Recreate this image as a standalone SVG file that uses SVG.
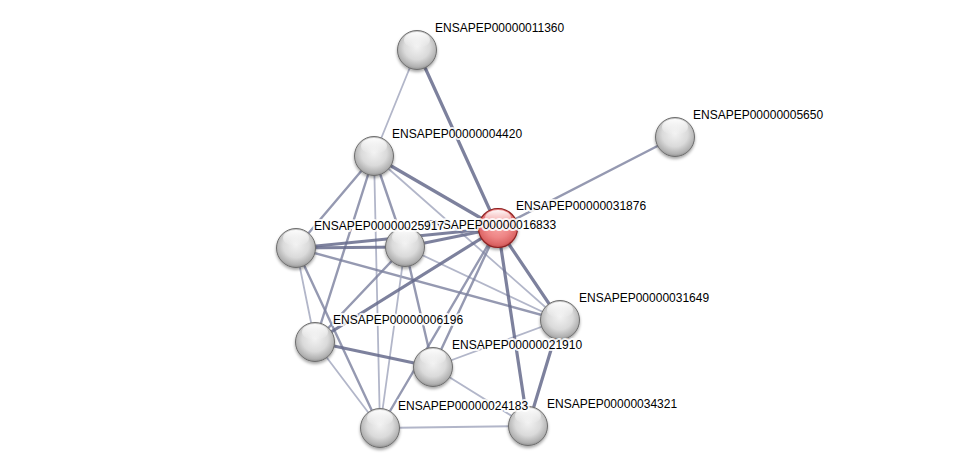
<svg xmlns="http://www.w3.org/2000/svg" xmlns:xlink="http://www.w3.org/1999/xlink" width="975" height="473" viewBox="0 0 975 473">
<style>
.e{fill:none;stroke-linecap:round}
.t{stroke:#666b8c;stroke-width:3.2;stroke-opacity:.85}
.m{stroke:#7a7f9e;stroke-width:2.4;stroke-opacity:.8}
.l{stroke:#a4a9c0;stroke-width:1.8;stroke-opacity:.85}
.ball{fill:url(#gBall);stroke:#6e6e6e;stroke-width:1}
.red{fill:url(#gRed);stroke:#8e2222;stroke-width:1.2}
.hl{fill:url(#gHl)}
text{font-family:"Liberation Sans",Arial,sans-serif;font-size:12px;fill:#000;paint-order:stroke;stroke:#fff;stroke-width:4px;stroke-opacity:.85;stroke-linejoin:round}
</style>
<defs>
<radialGradient id="gBall" cx="50%" cy="42%" r="60%">
<stop offset="0" stop-color="#f2f2f2"/>
<stop offset="0.55" stop-color="#dadada"/>
<stop offset="0.85" stop-color="#b2b2b2"/>
<stop offset="1" stop-color="#8a8a8a"/>
</radialGradient>
<radialGradient id="gRed" cx="50%" cy="42%" r="60%">
<stop offset="0" stop-color="#f9aaaa"/>
<stop offset="0.55" stop-color="#ee8585"/>
<stop offset="0.85" stop-color="#dc6565"/>
<stop offset="1" stop-color="#b94646"/>
</radialGradient>
<linearGradient id="gHl" x1="0" y1="0" x2="0" y2="1">
<stop offset="0" stop-color="#fff" stop-opacity="0.95"/>
<stop offset="1" stop-color="#fff" stop-opacity="0"/>
</linearGradient>
<filter id="sh" x="-30%" y="-30%" width="160%" height="170%">
<feDropShadow dx="0" dy="2" stdDeviation="1.5" flood-color="#000" flood-opacity="0.35"/>
</filter>
</defs>
<rect width="975" height="473" fill="#fff"/>
<g id="edges">
<line class="e l" x1="417" y1="50" x2="374" y2="156"/>
<line class="e t" x1="417" y1="50" x2="498" y2="228"/>
<line class="e m" x1="675" y1="137" x2="498" y2="228"/>
<line class="e t" x1="374" y1="156" x2="498" y2="228"/>
<line class="e l" x1="374" y1="156" x2="560" y2="320"/>
<line class="e m" x1="374" y1="156" x2="296" y2="248"/>
<line class="e m" x1="374" y1="156" x2="315" y2="342"/>
<line class="e l" x1="374" y1="156" x2="380" y2="428"/>
<line class="e m" x1="374" y1="156" x2="405" y2="247"/>
<line class="e t" x1="296" y1="248" x2="405" y2="247"/>
<line class="e t" x1="296" y1="248" x2="498" y2="228"/>
<line class="e t" x1="405" y1="247" x2="498" y2="228"/>
<line class="e l" x1="296" y1="248" x2="315" y2="342"/>
<line class="e m" x1="296" y1="248" x2="380" y2="428"/>
<line class="e m" x1="296" y1="248" x2="560" y2="320"/>
<line class="e m" x1="405" y1="247" x2="315" y2="342"/>
<line class="e l" x1="405" y1="247" x2="380" y2="428"/>
<line class="e m" x1="405" y1="247" x2="433" y2="367"/>
<line class="e l" x1="405" y1="247" x2="560" y2="320"/>
<line class="e t" x1="315" y1="342" x2="498" y2="228"/>
<line class="e t" x1="315" y1="342" x2="433" y2="367"/>
<line class="e l" x1="315" y1="342" x2="380" y2="428"/>
<line class="e m" x1="433" y1="367" x2="498" y2="228"/>
<line class="e m" x1="380" y1="428" x2="498" y2="228"/>
<line class="e l" x1="433" y1="367" x2="560" y2="320"/>
<line class="e l" x1="433" y1="367" x2="528" y2="426"/>
<line class="e t" x1="498" y1="228" x2="560" y2="320"/>
<line class="e t" x1="498" y1="228" x2="528" y2="426"/>
<line class="e t" x1="560" y1="320" x2="528" y2="426"/>
<line class="e l" x1="380" y1="428" x2="528" y2="426"/>
</g>
<g id="n11360" filter="url(#sh)"><circle class="ball" cx="417" cy="50" r="19.5"/><ellipse class="hl" cx="417" cy="40" rx="13" ry="8"/></g>
<g id="n5650" filter="url(#sh)"><circle class="ball" cx="675" cy="137" r="19.5"/><ellipse class="hl" cx="675" cy="127" rx="13" ry="8"/></g>
<g id="n4420" filter="url(#sh)"><circle class="ball" cx="374" cy="156" r="19.5"/><ellipse class="hl" cx="374" cy="146" rx="13" ry="8"/></g>
<g id="n31876" filter="url(#sh)"><circle class="red" cx="498" cy="228" r="19.5"/><ellipse class="hl" cx="498" cy="218" rx="13" ry="8"/></g>
<g id="n25917" filter="url(#sh)"><circle class="ball" cx="296" cy="248" r="19.5"/><ellipse class="hl" cx="296" cy="238" rx="13" ry="8"/></g>
<g id="n16833" filter="url(#sh)"><circle class="ball" cx="405" cy="247" r="19.5"/><ellipse class="hl" cx="405" cy="237" rx="13" ry="8"/></g>
<g id="n6196" filter="url(#sh)"><circle class="ball" cx="315" cy="342" r="19.5"/><ellipse class="hl" cx="315" cy="332" rx="13" ry="8"/></g>
<g id="n21910" filter="url(#sh)"><circle class="ball" cx="433" cy="367" r="19.5"/><ellipse class="hl" cx="433" cy="357" rx="13" ry="8"/></g>
<g id="n31649" filter="url(#sh)"><circle class="ball" cx="560" cy="320" r="19.5"/><ellipse class="hl" cx="560" cy="310" rx="13" ry="8"/></g>
<g id="n24183" filter="url(#sh)"><circle class="ball" cx="380" cy="428" r="19.5"/><ellipse class="hl" cx="380" cy="418" rx="13" ry="8"/></g>
<g id="n34321" filter="url(#sh)"><circle class="ball" cx="528" cy="426" r="19.5"/><ellipse class="hl" cx="528" cy="416" rx="13" ry="8"/></g>
<g id="labels">
<text x="435" y="32">ENSAPEP00000011360</text>
<text x="693" y="119">ENSAPEP00000005650</text>
<text x="392" y="138">ENSAPEP00000004420</text>
<text x="516" y="210">ENSAPEP00000031876</text>
<text x="426" y="229">ENSAPEP00000016833</text>
<text x="314" y="230">ENSAPEP00000025917</text>
<text x="333" y="324">ENSAPEP00000006196</text>
<text x="452" y="349">ENSAPEP00000021910</text>
<text x="579" y="302">ENSAPEP00000031649</text>
<text x="398" y="410">ENSAPEP00000024183</text>
<text x="547" y="408">ENSAPEP00000034321</text>
</g>
</svg>
